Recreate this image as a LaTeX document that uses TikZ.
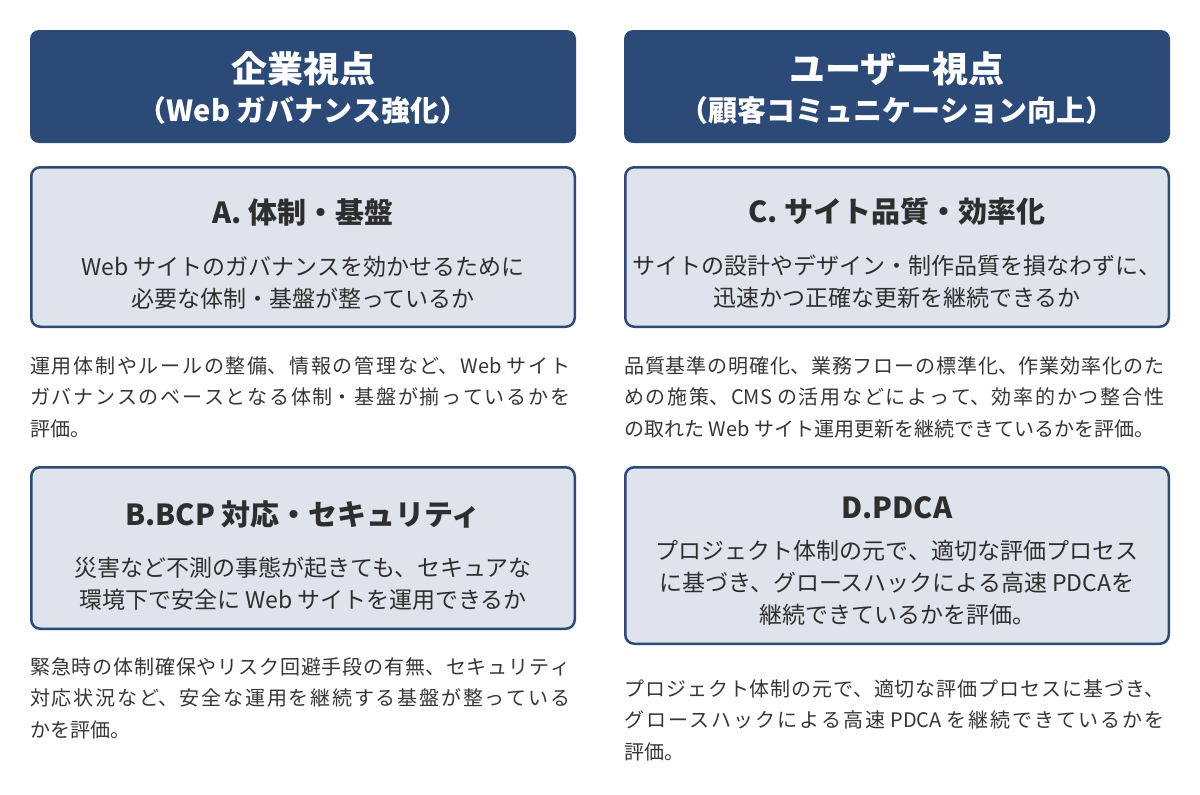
\documentclass[tikz,border=0pt]{standalone}
\usepackage{fontspec}
\setmainfont{Noto Sans CJK JP}
\usepackage{xcolor}
\definecolor{navy}{HTML}{2B4A78}
\definecolor{boxgray}{HTML}{DFE3EB}
\definecolor{ink}{HTML}{2E2E2E}
\definecolor{parink}{HTML}{363636}
\XeTeXlinebreaklocale "ja"
\XeTeXlinebreakskip=0pt plus 6pt

\begin{document}
\begin{tikzpicture}[x=1pt,y=-1pt,
  headbox/.style={fill=navy, rounded corners=9pt, minimum width=546pt, minimum height=113pt, inner sep=0},
  headtitle/.style={text=white, font=\fontsize{36}{36}\selectfont\bfseries, inner sep=0},
  headsub/.style={text=white, font=\fontsize{29}{29}\selectfont\bfseries, inner sep=0},
  itembox/.style={fill=boxgray, draw=navy, line width=2.5pt, rounded corners=9pt, minimum width=543.5pt, inner sep=0},
  itemtitle/.style={text=ink, font=\fontsize{29}{29}\selectfont\bfseries, inner sep=0},
  itembody/.style={text=ink, font=\fontsize{23}{32}\selectfont, align=center, inner sep=0},
  paratxt/.style={text=parink, font=\fontsize{20}{31.5}\selectfont, text width=540pt, align=justify, inner sep=0, anchor=north west}]
\useasboundingbox (0,0) rectangle (1200,795);

% left column
\node[headbox] (corp) at (303,86.5) {};
\node[headtitle] (corpT) at (303,68.5) {企業視点};
\node[headsub] (corpS) at (303,110) {（Web ガバナンス強化）};

\node[itembox, minimum height=159.5pt] (boxA) at (303,247) {};
\node[itemtitle] (boxAT) at (303,212) {A. 体制・基盤};
\node[itembody] (boxAB) at (303,283) {Web サイトのガバナンスを効かせるために\\必要な体制・基盤が整っているか};
\node[paratxt] (paraA) at (30,356) {運用体制やルールの整備、情報の管理など、Web サイト\linebreak
  ガバナンスのベースとなる体制・基盤が揃っているかを\linebreak 評価。};

\node[itembox, minimum height=161.5pt] (boxB) at (303,548) {};
\node[itemtitle] (boxBT) at (303,514) {B.BCP 対応・セキュリティ};
\node[itembody] (boxBB) at (303,584) {災害など不測の事態が起きても、セキュアな\\環境下で安全に Web サイトを運用できるか};
\node[paratxt] (paraB) at (30,657) {緊急時の体制確保やリスク回避手段の有無、セキュリティ\linebreak
  対応状況など、安全な運用を継続する基盤が整っている\linebreak かを評価。};

% right column
\node[headbox] (user) at (897,86.5) {};
\node[headtitle] (userT) at (897,68.5) {ユーザー視点};
\node[headsub] (userS) at (897,110) {（顧客コミュニケーション向上）};

\node[itembox, minimum height=159.5pt] (boxC) at (897,247) {};
\node[itemtitle] (boxCT) at (897,212) {C. サイト品質・効率化};
\node[itembody] (boxCB) at (897,282) {サイトの設計やデザイン・制作品質を損なわずに、\\迅速かつ正確な更新を継続できるか};
\node[paratxt] (paraC) at (624,356) {品質基準の明確化、業務フローの標準化、作業効率化のた\linebreak
  めの施策、CMS の活用などによって、効率的かつ整合性\linebreak の取れた Web サイト運用更新を継続できているかを評価。};

\node[itembox, minimum height=176.5pt] (boxD) at (897,555.5) {};
\node[itemtitle] (boxDT) at (897,508) {D.PDCA};
\node[itembody] (boxDB) at (897,583) {プロジェクト体制の元で、適切な評価プロセス\\に基づき、グロースハックによる高速 PDCAを\\継続できているかを評価。};
\node[paratxt] (paraD) at (624,679) {プロジェクト体制の元で、適切な評価プロセスに基づき、\linebreak
  グロースハックによる高速 PDCA を継続できているかを\linebreak 評価。};
\end{tikzpicture}
\end{document}
